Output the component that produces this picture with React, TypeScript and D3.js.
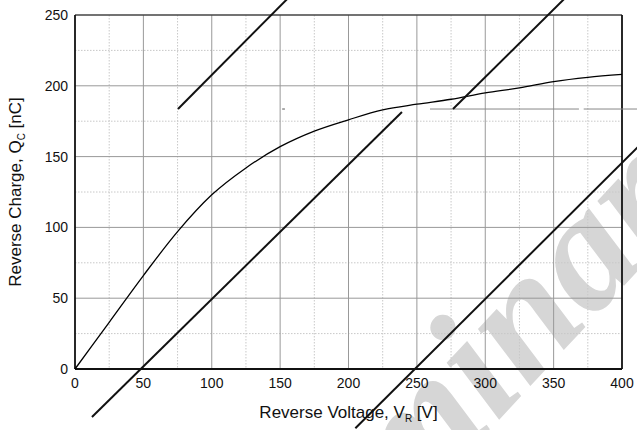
import * as React from 'react'
import * as d3 from 'd3'

// Reverse recovery charge vs reverse voltage
const voltage = [0, 25, 50, 75, 100, 125, 150, 175, 200, 225, 250, 275, 300, 325, 350, 375, 400]
const charge = [0, 33, 66, 97, 123, 142, 157, 168, 176, 183, 187, 190.5, 195, 198.5, 203, 206, 208]

const xTicks = [0, 50, 100, 150, 200, 250, 300, 350, 400]
const yTicks = [0, 50, 100, 150, 200, 250]
const xMinor = [25, 75, 125, 175, 225, 275, 325, 375]
const yMinor = [25, 75, 125, 175, 225]

// watermark strokes, endpoints in data units
const stampLines: [number, number, number, number][] = [
  [75.3, 183.6, 160, 266],
  [12.4, -33.9, 239.1, 181.5],
  [276.4, 183.6, 360, 263.5],
  [205, -41.8, 415, 160],
]

const W = 637
const H = 430
const margin = { top: 15, right: 15, bottom: 61, left: 75 }

export default function App() {
  const innerW = W - margin.left - margin.right
  const innerH = H - margin.top - margin.bottom

  const x = d3.scaleLinear().domain([0, 400]).range([margin.left, margin.left + innerW])
  const y = d3.scaleLinear().domain([0, 250]).range([margin.top + innerH, margin.top])

  const line = d3
    .line<number>()
    .x((_, i) => x(voltage[i]))
    .y(d => y(d))
    .curve(d3.curveMonotoneX)

  const font = 'Liberation Sans, Arial, sans-serif'
  const x0 = margin.left
  const x1 = margin.left + innerW
  const y0 = margin.top + innerH
  const y1 = margin.top

  return (
    <svg width={W} height={H} style={{ position: 'absolute', left: 0, top: 0, background: '#fff' }}>
      {/* watermark text */}
      <text
        x={178}
        y={764}
        transform="rotate(-47 178 764)"
        fontFamily="Liberation Serif, Times New Roman, serif"
        fontStyle="italic"
        fontWeight="bold"
        fontSize={168}
        fill="#d6d6d6"
      >
        Preliminary
      </text>

      {/* minor grid */}
      {xMinor.map(v => (
        <line key={'xm' + v} x1={x(v)} x2={x(v)} y1={y1} y2={y0} stroke="#c8c8c8" strokeDasharray="1.5,1.5" />
      ))}
      {yMinor.map(v => (
        <line key={'ym' + v} x1={x0} x2={x1} y1={y(v)} y2={y(v)} stroke="#c8c8c8" strokeDasharray="1.5,1.5" />
      ))}
      {/* major grid */}
      {xTicks.slice(1, -1).map(v => (
        <line key={'xg' + v} x1={x(v)} x2={x(v)} y1={y1} y2={y0} stroke="#999" strokeWidth={1} />
      ))}
      {yTicks.slice(1, -1).map(v => (
        <line key={'yg' + v} x1={x0} x2={x1} y1={y(v)} y2={y(v)} stroke="#999" strokeWidth={1} />
      ))}

      {/* frame */}
      <line x1={x0} x2={x1} y1={y1} y2={y1} stroke="#444" strokeWidth={1.5} />
      <line x1={x1} x2={x1} y1={y1} y2={y0} stroke="#111" strokeWidth={1.8} />
      <line x1={x0} x2={x0} y1={y1} y2={y0} stroke="#111" strokeWidth={1.8} />
      <line x1={x0} x2={x1} y1={y0} y2={y0} stroke="#111" strokeWidth={1.8} />

      {/* curve */}
      <path d={line(charge) || ''} fill="none" stroke="#000" strokeWidth={1.3} />

      {/* watermark strokes */}
      <line x1={x(259.6)} x2={W} y1={y(183.6)} y2={y(183.6)} stroke="#888" strokeWidth={1} />
      <line x1={x(368.5)} x2={x(372)} y1={y(183.6)} y2={y(183.6)} stroke="#fff" strokeWidth={2} />
      <line x1={x(151.5)} x2={x(153.5)} y1={y(183.6)} y2={y(183.6)} stroke="#555" strokeWidth={1} />
      {stampLines.map(([a, b, c, d], i) => (
        <line key={'s' + i} x1={x(a)} y1={y(b)} x2={x(c)} y2={y(d)} stroke="#111" strokeWidth={2} />
      ))}

      {/* tick labels */}
      {xTicks.map(v => (
        <text key={'xt' + v} x={x(v)} y={y0 + 19} textAnchor="middle" fontFamily={font} fontSize={14} fill="#111">
          {v}
        </text>
      ))}
      {yTicks.map(v => (
        <text key={'yt' + v} x={x0 - 7} y={y(v) + 5} textAnchor="end" fontFamily={font} fontSize={14} fill="#111">
          {v}
        </text>
      ))}

      {/* axis titles */}
      <text x={(x0 + x1) / 2} y={418} textAnchor="middle" fontFamily={font} fontSize={17} fill="#111">
        Reverse Voltage, V<tspan fontSize={10} dy={4}>R</tspan>
        <tspan dy={-4}> [V]</tspan>
      </text>
      <text
        transform={`translate(21, ${(y0 + y1) / 2}) rotate(-90)`}
        textAnchor="middle"
        fontFamily={font}
        fontSize={17}
        fill="#111"
      >
        Reverse Charge, Q<tspan fontSize={10} dy={4}>C</tspan>
        <tspan dy={-4}> [nC]</tspan>
      </text>
    </svg>
  )
}
